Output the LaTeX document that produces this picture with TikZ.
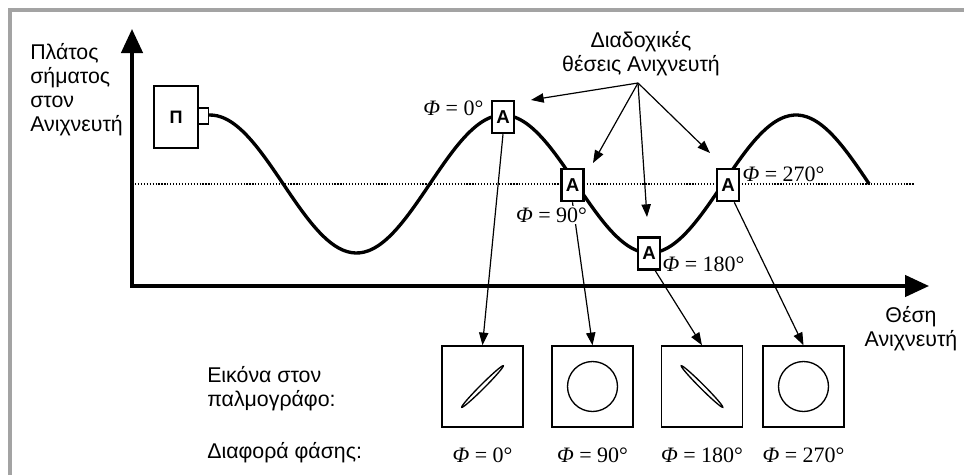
\documentclass[tikz,border=0pt]{standalone}
\usepackage{fontspec}
\setmainfont{Liberation Sans}
\newfontfamily\tmsfont{Liberation Serif}
\usetikzlibrary{arrows.meta}
\definecolor{framegray}{HTML}{A3A3A3}
\newcommand{\phase}[1]{{\tmsfont\textit{Φ} = #1°}}
\tikzset{
  lbl/.style={font=\fontsize{16}{18}\selectfont,inner sep=0pt},
  phase/.style={font=\fontsize{16.5}{18}\selectfont,inner sep=1pt},
  detbox/.style={draw,line width=1.9pt,fill=white,minimum width=16.5pt,minimum height=24pt,inner sep=0pt,font=\bfseries\fontsize{14}{14}\selectfont},
  scopebox/.style={draw,line width=1.1pt,minimum size=60.75pt,inner sep=0pt},
  ptr/.style={-{Triangle[length=9.5pt,width=7pt]},line width=0.9pt},
}
\begin{document}
\begin{tikzpicture}[x=0.75pt,y=-0.75pt]
\useasboundingbox (0,0) rectangle (964,475);
\draw[framegray,line width=2.4pt] (10,475)--(10,10)--(964,10);
% axes
\coordinate (ytip) at (132,29);
\coordinate (o) at (132,286);
\coordinate (xtip) at (929,286);
\draw[line width=2.6pt,{Triangle[length=18pt,width=16pt]}-{Triangle[length=18pt,width=16pt]}] (ytip)--(o)--(xtip);
\draw[line width=0.9pt,dash pattern=on 0.9pt off 1.3pt] (135,184)--(915,184);
\node[lbl,align=left,anchor=north west] (ylab) at (30,43) {Πλάτος\\σήματος\\στον\\Ανιχνευτή};
\node[lbl,align=center,anchor=north] (xlab) at (911,306) {Θέση\\Ανιχνευτή};
% wave
\draw[line width=2.5pt] plot[domain=205:869,samples=160,smooth] (\x,{184-69*cos(1.22867*(\x-210))});
\node[draw,line width=1.1pt,fill=white,minimum width=33pt,minimum height=46.5pt,inner sep=0pt,font=\bfseries\fontsize{13.5}{13.5}\selectfont] (pbox) at (176,117) {Π};
\node[draw,line width=1.1pt,fill=white,minimum width=7.5pt,minimum height=12pt,inner sep=0pt,anchor=west] (pport) at (198,116) {};
% scope boxes
\foreach \n/\px in {0/482.5,90/592.5,180/702,270/803.5}{
  \node[scopebox] (s\n) at (\px,386.5) {};
  \node[phase] (f\n) at (\px,455) {\phase{\n}};}
\draw[line width=1pt,rotate around={45:(s0.center)}] (s0.center) ellipse[x radius=22pt,y radius=1.6pt];
\draw[line width=1pt,rotate around={-45:(s180.center)}] (s180.center) ellipse[x radius=22pt,y radius=1.6pt];
\draw[line width=1pt] (s90.center) circle[radius=18.75pt];
\draw[line width=1pt] (s270.center) circle[radius=18.75pt];
% detector positions
\foreach \n/\px/\py in {0/503/117,90/572.5/185,180/649/253.5,270/728/185}
  \node[detbox] (a\n) at (\px,\py) {A};
\foreach \n/\an in {0/south,90/south,180/-70,270/-70}
  \draw[ptr] (a\n.\an)--(s\n.north);
\node[phase,anchor=east] (p0) at (485,108) {\phase{0}};
\node[phase,fill=white] (p90) at (551.5,215) {\phase{90}};
\node[phase,anchor=west] (p180) at (661,264) {\phase{180}};
\node[phase,anchor=west] (p270) at (741,174) {\phase{270}};
% successive positions
\node[lbl,align=center,anchor=north] (pos) at (641,31) {Διαδοχικές\\θέσεις Ανιχνευτή};
\coordinate (src) at (638,83);
\foreach \t/\px/\py in {0/531/100,1/593/163,2/647/217,3/710/153}{
  \coordinate (t\t) at (\px,\py);
  \draw[ptr] (src)--(t\t);}
\node[lbl,align=left,anchor=north west] (scopelab) at (207,366) {Εικόνα στον\\παλμογράφο:};
\node[lbl,anchor=base west] (difflab) at (207,458) {Διαφορά φάσης:};
\end{tikzpicture}
\end{document}
